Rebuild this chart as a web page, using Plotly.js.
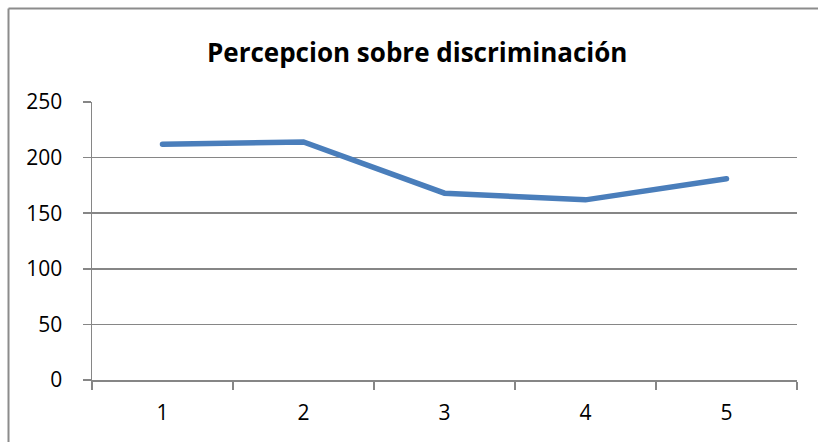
<!DOCTYPE html>
<html>
<head>
<meta charset="utf-8">
<script src="https://cdn.plot.ly/plotly-3.0.1.min.js"></script>
<style>html,body{margin:0;padding:0;background:#fff;}#chart{width:818px;height:442px;}
#chart .scatterlayer path.js-line{stroke-linecap:round;}</style>
</head>
<body>
<div id="chart"></div>
<script>
const categories = ['1', '2', '3', '4', '5'];
const values = [212, 214, 168, 162, 181];
const yTicks = [0, 50, 100, 150, 200, 250];
const chartTitle = 'Percepcion sobre discriminación';

const W = 818, H = 442;
const mL = 92, mR = 21, mT = 102, mB = 62;
const pw = W - mL - mR, ph = H - mT - mB;
const px = v => (v - mL) / pw;
const py = v => (H - mB - v) / ph;

const trace = {
  x: categories,
  y: values,
  type: 'scatter',
  mode: 'lines',
  line: {color: '#4a7ebb', width: 5.5},
  hoverinfo: 'skip'
};

const tickFont = {family: 'Open Sans, sans-serif', size: 21, color: '#000000'};

const layout = {
  width: W, height: H,
  margin: {l: mL, r: mR, t: mT, b: mB, pad: 0},
  paper_bgcolor: '#ffffff',
  plot_bgcolor: '#ffffff',
  showlegend: false,
  title: {
    text: '<b>' + chartTitle + '</b>',
    font: {family: 'Open Sans, sans-serif', size: 26, color: '#000000'},
    x: 0.51, xanchor: 'center',
    y: 1 - 53 / H, yanchor: 'middle'
  },
  font: tickFont,
  xaxis: {
    type: 'category',
    range: [-0.5, 4.5],
    tickson: 'boundaries',
    ticks: 'outside', ticklen: 8, tickwidth: 1.5, tickcolor: '#868686',
    showline: true, linecolor: '#868686', linewidth: 1.5,
    showgrid: false, zeroline: false,
    tickfont: tickFont,
    ticklabelstandoff: 13,
    fixedrange: true
  },
  yaxis: {
    range: [0, 250],
    tickvals: yTicks,
    ticktext: yTicks.map(String),
    ticks: 'outside', ticklen: 8, tickwidth: 1.5, tickcolor: '#868686',
    showline: true, linecolor: '#868686', linewidth: 1.5,
    showgrid: true, gridcolor: '#868686', gridwidth: 1.5,
    zeroline: false,
    tickfont: tickFont,
    ticklabelstandoff: 16,
    fixedrange: true
  },
  shapes: [
    {type: 'line', xref: 'paper', yref: 'paper',
     x0: px(8.5), x1: px(830), y0: py(8.5), y1: py(8.5),
     line: {color: '#8c8c8c', width: 2}},
    {type: 'line', xref: 'paper', yref: 'paper',
     x0: px(8.5), x1: px(8.5), y0: py(8.5), y1: py(460),
     line: {color: '#8c8c8c', width: 2}}
  ]
};

Plotly.newPlot('chart', [trace], layout, {displayModeBar: false, staticPlot: true});
</script>
</body>
</html>
